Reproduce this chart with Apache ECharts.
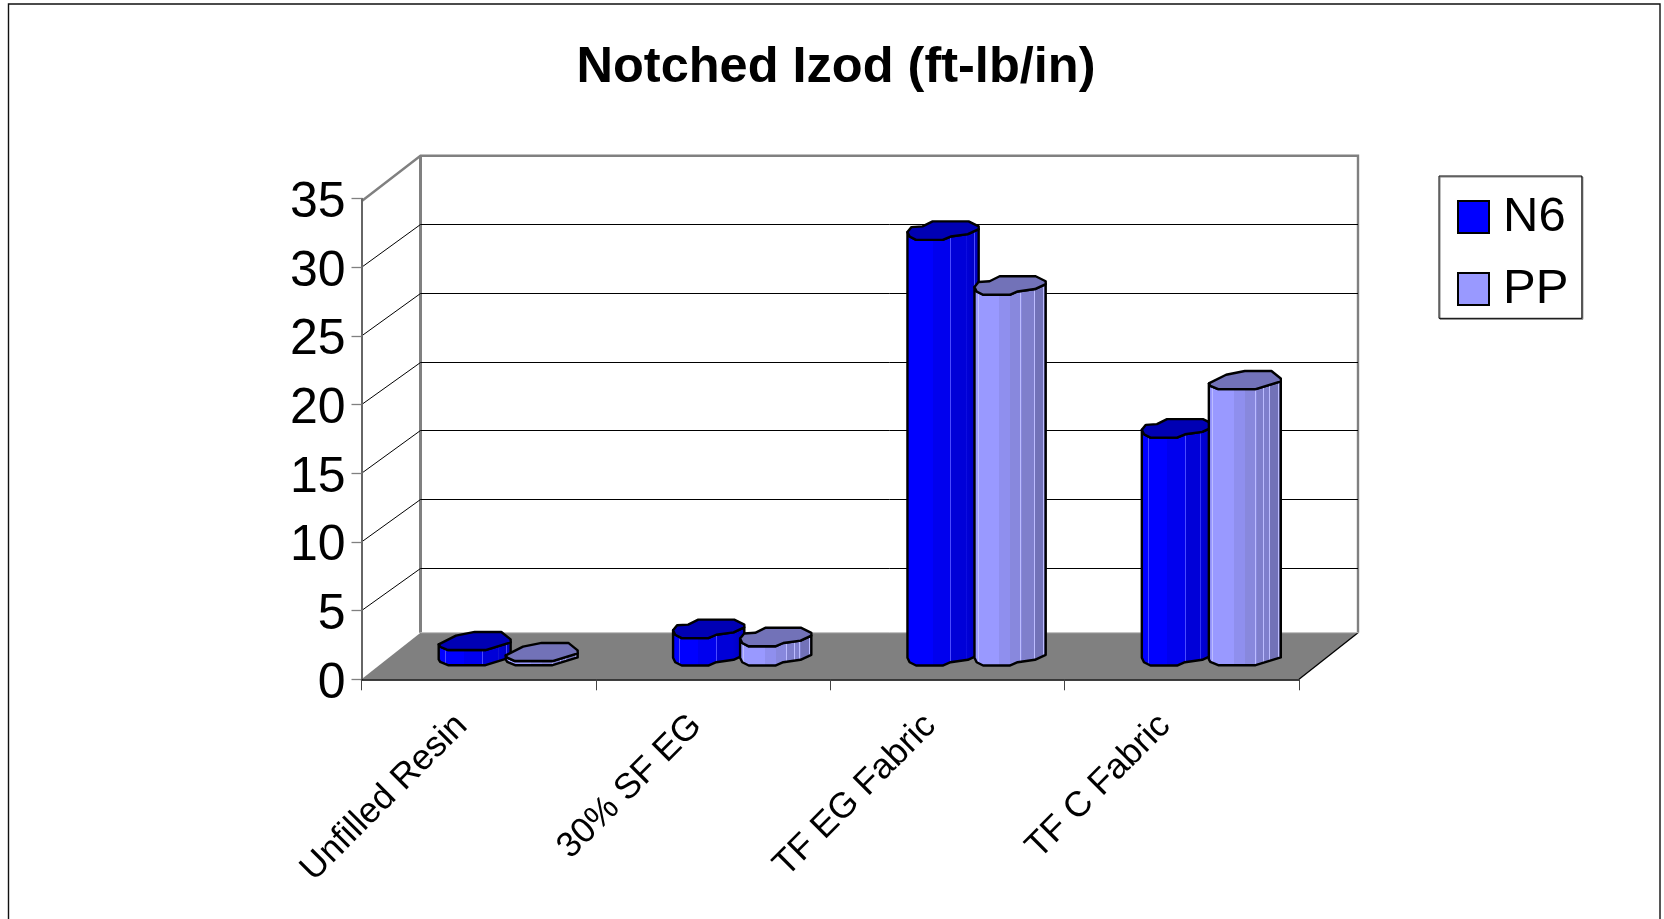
<!DOCTYPE html>
<html>
<head>
<meta charset="utf-8">
<style>html,body{margin:0;padding:0;background:#fff}#c{width:1664px;height:919px}</style>
<script src="https://cdn.jsdelivr.net/npm/echarts@6/dist/echarts.min.js"></script>
</head>
<body>
<div id="c"></div>
<script>
const categories = ['Unfilled Resin', '30% SF EG', 'TF EG Fabric', 'TF C Fabric'];
const n6Values = [1.1, 2.0, 31.0, 16.6];
const ppValues = [0.3, 1.4, 27.0, 20.1];
const yTicks = [5, 10, 15, 20, 25, 30];
const seriesNames = ['N6', 'PP'];

const FONT = '"Liberation Sans", Arial, sans-serif';
const DEPTH_X = 59, DEPTH_Y = -43, FLOOR_DEPTH_Y = -46.6, TOP_FIX = 2.6;
const BAR_OFFSET = 0.143, BAR_WIDTH = 0.307, TOP_H = 18.5;

// lumpy outline of the column top, x/y in 0..1, starting at the left, clockwise
const shapeA = { pts: [[0,.58],[.056,.31],[.21,.27],[.35,0],[.85,0],[.99,.27],[.99,.42],[.84,.69],[.60,.82],[.49,1],[.12,1],[.03,.82]], lower: 6 };
const shapeB = { pts: [[0,.67],[.24,.2],[.5,0],[.87,0],[1,.4],[1,.56],[.65,.98],[.13,.98],[.02,.8]], lower: 5 };
const shapesN6 = [shapeB, shapeA, shapeA, shapeA];
const shapesPP = [shapeB, shapeA, shapeA, shapeB];

const looks = {
  N6: { top: '#0000b4', bands: [[.36,'#0000ff'],[.6,'#0000ee'],[.82,'#0000d8'],[1,'#0000c4']], seams: [.1,.6,.81,.92], seam: '#4a4aff' },
  PP: { top: '#7272b8', bands: [[.35,'#9999ff'],[.5,'#8f8fee'],[.66,'#8888dd'],[.84,'#7f7fcc'],[1,'#7272b8']], seams: [.06,.64,.75,.82,.95], seam: '#bcbcff' }
};

function bodyFill(look) {
  const stops = [];
  let from = 0;
  const sw = 0.012;
  look.bands.forEach(function (b) {
    const inner = look.seams.filter(function (s) { return s >= from && s < b[0]; });
    let p = from;
    inner.forEach(function (s) {
      stops.push({ offset: p, color: b[1] }, { offset: s, color: b[1] },
                 { offset: s, color: look.seam }, { offset: s + sw, color: look.seam });
      p = s + sw;
    });
    stops.push({ offset: p, color: b[1] }, { offset: b[0], color: b[1] });
    from = b[0];
  });
  return new echarts.graphic.LinearGradient(0, 0, 1, 0, stops);
}

function barSeries(idx, values, shapes) {
  const name = seriesNames[idx];
  const look = looks[name];
  const sign = idx === 0 ? -1 : 1;
  return {
    name: name, type: 'custom', z: 4, clip: false, silent: true,
    itemStyle: { color: look.bands[0][1] },
    encode: { x: 0, y: 1 },
    data: values.map(function (v, i) { return [i, v]; }),
    renderItem: function (params, api) {
      const cat = api.value(0), val = api.value(1);
      const band = api.size([1, 0])[0];
      const w = band * BAR_WIDTH;
      const base = api.coord([cat, 0]);
      const top = api.coord([cat, val]);
      const left = base[0] + DEPTH_X / 2 + sign * band * BAR_OFFSET - w / 2;
      const topY = top[1] + DEPTH_Y * 0.535 - TOP_H / 2;
      const h = base[1] - top[1];
      const shape = shapes[cat];
      const P = shape.pts.map(function (p) { return [left + p[0] * w, topY + p[1] * TOP_H]; });
      const low = P.slice(shape.lower).concat([P[0]]);
      const body = low.concat(low.slice().reverse().map(function (p) { return [p[0], p[1] + h]; }));
      const line = { stroke: '#000', lineWidth: 2.4, lineJoin: 'round' };
      return {
        type: 'group',
        children: [
          { type: 'polygon', shape: { points: body }, style: Object.assign({ fill: bodyFill(look) }, line) },
          { type: 'polygon', shape: { points: P }, style: Object.assign({ fill: look.top }, line) }
        ]
      };
    }
  };
}

const wallSeries = {
  name: 'walls', type: 'custom', z: 1, clip: false, silent: true,
  encode: { x: 0, y: 1 }, data: [[0, 0]],
  renderItem: function (params, api) {
    const cs = params.coordSys;
    const x0 = cs.x, x1 = cs.x + cs.width;
    const y0 = api.coord([0, 0])[1], y35 = api.coord([0, 35])[1];
    const bx0 = x0 + DEPTH_X, bx1 = x1 + DEPTH_X, byTop = y35 + DEPTH_Y, byFloor = y0 + FLOOR_DEPTH_Y;
    const grey = '#808080';
    return {
      type: 'group',
      children: [
        { type: 'polygon', shape: { points: [[x0, y0], [bx0, byFloor], [bx1, byFloor], [x1, y0]] }, style: { fill: '#808080' } },
        { type: 'line', shape: { x1: x1, y1: y0, x2: bx1, y2: byFloor }, style: { stroke: '#000', lineWidth: 1.3 } },
        { type: 'polyline', shape: { points: [[x0, y35 + TOP_FIX], [bx0, byTop], [bx1, byTop], [bx1, byFloor]] }, style: { stroke: grey, lineWidth: 2.4, fill: null } },
        { type: 'line', shape: { x1: bx0, y1: byTop, x2: bx0, y2: byFloor }, style: { stroke: grey, lineWidth: 3 } },
        { type: 'line', shape: { x1: bx0, y1: byFloor, x2: bx1, y2: byFloor }, style: { stroke: '#bdbdbd', lineWidth: 1 } }
      ]
    };
  }
};

const gridSeries = {
  name: 'gridlines', type: 'custom', z: 2, clip: false, silent: true,
  encode: { x: 0, y: 1 },
  data: yTicks.map(function (t) { return [0, t]; }),
  renderItem: function (params, api) {
    const cs = params.coordSys;
    const y = api.coord([0, api.value(1)])[1];
    const x0 = cs.x, bx0 = x0 + DEPTH_X, bx1 = cs.x + cs.width + DEPTH_X, by = Math.round(y + DEPTH_Y) + 0.5;
    return {
      type: 'group',
      children: [
        { type: 'line', shape: { x1: x0, y1: y, x2: bx0, y2: by }, style: { stroke: '#000', lineWidth: 1 } },
        { type: 'line', shape: { x1: bx0, y1: by, x2: bx1, y2: by }, style: { stroke: '#000', lineWidth: 1 } }
      ]
    };
  }
};

const chart = echarts.init(document.getElementById('c'), null, { renderer: 'canvas' });
chart.setOption({
  animation: false,
  backgroundColor: '#fff',
  title: {
    text: 'Notched Izod (ft-lb/in)', left: 831, top: 38, textAlign: 'center',
    textStyle: { fontFamily: FONT, fontSize: 50.5, fontWeight: 'bold', color: '#000' }
  },
  legend: {
    data: seriesNames, orient: 'vertical', left: 1439, top: 176,
    padding: [16.5, 13.5, 4.8, 18], itemWidth: 31, itemHeight: 32, itemGap: 23,
    backgroundColor: '#fff', borderColor: '#000', borderWidth: 1,
    shadowColor: '#808080', shadowOffsetX: 1, shadowOffsetY: 1, shadowBlur: 0,
    icon: 'rect', selectedMode: false,
    itemStyle: { borderColor: '#000', borderWidth: 2 },
    textStyle: { fontFamily: FONT, fontSize: 49, color: '#000', lineHeight: 32, padding: [0, 0, 0, 9] }
  },
  grid: { left: 361.5, top: 198.7, width: 937.5, height: 480.6 },
  xAxis: {
    type: 'category', data: categories, z: 3,
    axisLine: { lineStyle: { color: '#000', width: 1.5 } },
    axisTick: { show: true, length: 11, lineStyle: { color: '#444', width: 1 } },
    axisLabel: { interval: 0, rotate: 45, margin: 24, padding: [0, 24, 0, 0], fontFamily: FONT, fontSize: 35.5, color: '#000' }
  },
  yAxis: {
    type: 'value', min: 0, max: 35, interval: 5, z: 3,
    splitLine: { show: false },
    axisLine: { show: true, lineStyle: { color: '#666', width: 2 } },
    axisTick: { show: true, length: 10, lineStyle: { color: '#808080', width: 1.3 } },
    axisLabel: { margin: 16, verticalAlign: 'top', lineHeight: 9, fontFamily: FONT, fontSize: 50, color: '#000' }
  },
  graphic: [{
    type: 'rect', z: -1, silent: true,
    shape: { x: 8.5, y: 4, width: 1651.5, height: 930 },
    style: { fill: 'none', stroke: '#111', lineWidth: 1.4 }
  }],
  series: [wallSeries, gridSeries, barSeries(0, n6Values, shapesN6), barSeries(1, ppValues, shapesPP)]
});
</script>
</body>
</html>
